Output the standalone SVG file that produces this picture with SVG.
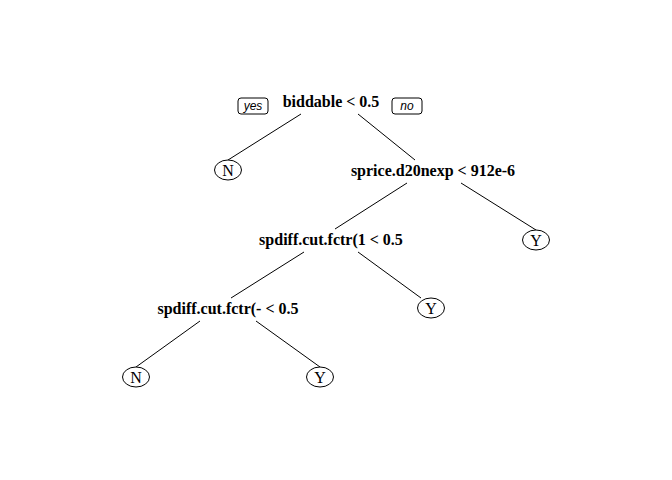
<svg xmlns="http://www.w3.org/2000/svg" width="672" height="480" viewBox="0 0 672 480">
<style>
.split{font-family:"Liberation Serif",serif;font-weight:bold;font-size:16px;text-anchor:middle;fill:#000}
.leaf{font-family:"Liberation Serif",serif;font-size:16px;text-anchor:middle;fill:#000}
.lab{font-family:"Liberation Sans",sans-serif;font-style:italic;font-size:12px;text-anchor:middle;fill:#000}
ellipse,.box{fill:#fff;stroke:#000;stroke-width:1}
line{stroke:#000;stroke-width:1}
</style>
<rect width="672" height="480" fill="#fff"/>
<g id="connectors">
<line x1="301" y1="114" x2="228" y2="160"/>
<line x1="358" y1="114" x2="415" y2="160"/>
<line x1="407" y1="183" x2="335" y2="229"/>
<line x1="461" y1="183" x2="536" y2="230"/>
<line x1="304" y1="252" x2="231" y2="298"/>
<line x1="358" y1="252" x2="421" y2="298"/>
<line x1="200" y1="321" x2="136" y2="367"/>
<line x1="256" y1="321" x2="320" y2="367"/>
</g>
<g id="n1">
<text class="split" x="331" y="107">biddable &lt; 0.5</text>
<rect class="box" x="238" y="98" width="30" height="16" rx="3"/>
<text class="lab" x="253" y="110">yes</text>
<rect class="box" x="392" y="98" width="30" height="16" rx="3"/>
<text class="lab" x="407" y="110">no</text>
</g>
<g id="n2">
<ellipse cx="228" cy="170" rx="13.5" ry="10"/>
<text class="leaf" x="228" y="175.5">N</text>
</g>
<g id="n3">
<text class="split" x="433" y="176">sprice.d20nexp &lt; 912e-6</text>
</g>
<g id="n4">
<text class="split" x="331" y="245">spdiff.cut.fctr(1 &lt; 0.5</text>
</g>
<g id="n5">
<ellipse cx="536" cy="240" rx="13.5" ry="10"/>
<text class="leaf" x="536" y="245.5">Y</text>
</g>
<g id="n6">
<text class="split" x="228" y="314">spdiff.cut.fctr(- &lt; 0.5</text>
</g>
<g id="n7">
<ellipse cx="431" cy="308" rx="13.5" ry="10"/>
<text class="leaf" x="431" y="313.5">Y</text>
</g>
<g id="n8">
<ellipse cx="136" cy="377" rx="13.5" ry="10"/>
<text class="leaf" x="136" y="382.5">N</text>
</g>
<g id="n9">
<ellipse cx="320" cy="377" rx="13.5" ry="10"/>
<text class="leaf" x="320" y="382.5">Y</text>
</g>
</svg>
